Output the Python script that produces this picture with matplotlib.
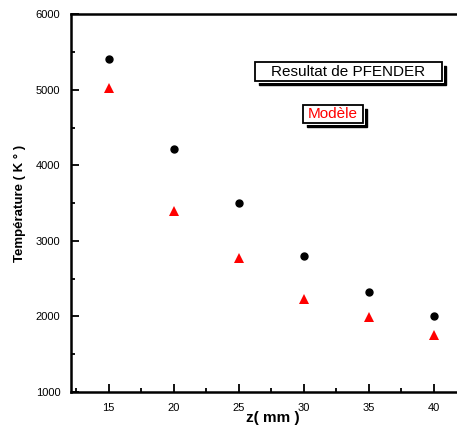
import matplotlib.pyplot as plt
from matplotlib.patches import Rectangle
from matplotlib.ticker import MultipleLocator

plt.rcParams['font.family'] = ['Liberation Sans', 'DejaVu Sans']

# data
z = [15, 20, 25, 30, 35, 40]
T_pfender = [5410, 4210, 3500, 2805, 2330, 2010]
T_modele = [5020, 3400, 2770, 2235, 1990, 1760]

fig = plt.figure(figsize=(4.57, 4.28), dpi=100)
ax = fig.add_axes([0.155, 0.084, 0.845, 0.883])

ax.plot(z, T_pfender, 'o', color='black', markersize=5)
ax.plot(z, T_modele, '^', color='red', markersize=7, markeredgewidth=0)

ax.set_xlim(12.1, 41.8)
ax.set_ylim(1000, 6000)
ax.xaxis.set_major_locator(MultipleLocator(5))
ax.xaxis.set_minor_locator(MultipleLocator(2.5))
ax.yaxis.set_major_locator(MultipleLocator(1000))
ax.yaxis.set_minor_locator(MultipleLocator(500))
ax.tick_params(which='both', direction='in', width=1.3, labelsize=8)
ax.tick_params(axis='x', pad=8)
ax.tick_params(axis='y', pad=7.5)
ax.tick_params(which='major', length=6)
ax.tick_params(which='minor', length=3)
ax.spines['right'].set_visible(False)
for s in ['left', 'bottom', 'top']:
    ax.spines[s].set_linewidth(1.8)

ax.set_xlabel('z( mm )', fontsize=11, fontweight='bold')
ax.xaxis.set_label_coords(0.524, -0.05)
ax.set_ylabel('Température ( K ° )', fontsize=9.5, fontweight='bold', labelpad=7)

# legend boxes with a 3d shadow, like the original
def shadow_box(x0, y0, x1, y1, txt, col):
    dx, dy = 0.011, 0.011
    ax.add_patch(Rectangle((x0 + dx, y0 - dy), x1 - x0, y1 - y0, transform=ax.transAxes,
                           fc='black', ec='black', lw=1, zorder=3, clip_on=False))
    ax.add_patch(Rectangle((x0 + dx * 0.45, y0 - dy * 0.45), x1 - x0, y1 - y0,
                           transform=ax.transAxes, fc='white', ec='none', zorder=3.5,
                           clip_on=False))
    ax.add_patch(Rectangle((x0, y0), x1 - x0, y1 - y0, transform=ax.transAxes,
                           fc='white', ec='black', lw=1.3, zorder=4, clip_on=False))
    ax.text((x0 + x1) / 2, (y0 + y1) / 2, txt, transform=ax.transAxes, fontsize=11,
            color=col, ha='center', va='center', zorder=5)

shadow_box(0.477, 0.823, 0.961, 0.873, 'Resultat de PFENDER', 'black')
shadow_box(0.601, 0.712, 0.756, 0.759, 'Modèle', 'red')

plt.savefig('out.png', dpi=100)
